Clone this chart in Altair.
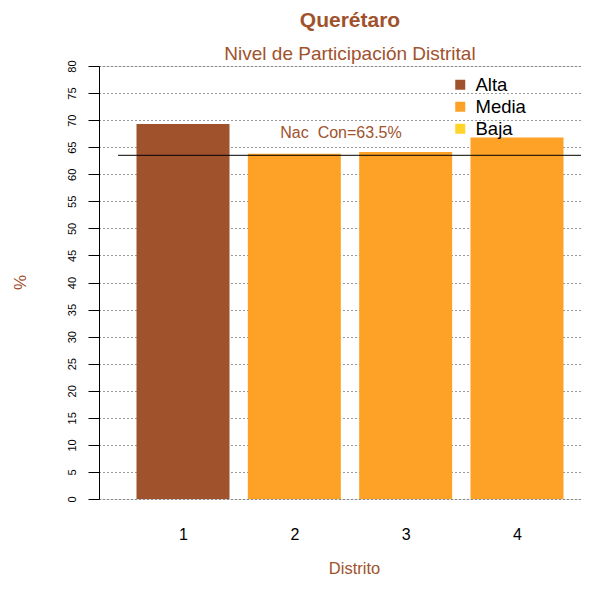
import altair as alt
import pandas as pd

# ---- data ----
distritos = [1, 2, 3, 4]
participacion = [69.3, 63.8, 64.1, 66.8]
nivel = ["Alta", "Media", "Media", "Media"]
nac_con = 63.5
nac_label = "Nac \u00a0Con=63.5%"
niveles = ["Alta", "Media", "Baja"]
colores = ["#A0522D", "#FEA127", "#FFD52B"]
y_ticks = list(range(0, 85, 5))
x_ticks = [1, 2, 3, 4]

SIENNA = "#A0522D"
FONT = "Liberation Sans"
HALF = 0.4177
X_DOMAIN = [0.2455, 4.5749]

df = pd.DataFrame({
    "distrito": distritos,
    "pct": participacion,
    "nivel": nivel,
})
df["x_lo"] = df["distrito"] - HALF
df["x_hi"] = df["distrito"] + HALF

ref = pd.DataFrame({"v": [nac_con], "t": [nac_label]})

x_scale = alt.Scale(domain=X_DOMAIN, nice=False, zero=False)
y_scale = alt.Scale(domain=[0, 80], nice=False)

Y_AXIS = alt.Axis(values=y_ticks, labelAngle=270, labelAlign="center",
                  labelBaseline="alphabetic", labelPadding=13,
                  labelOverlap=False,
                  labelFontSize=11, labelFont=FONT, labelColor="black",
                  tickSize=11, tickColor="black", tickWidth=1,
                  domainColor="black", domainWidth=1,
                  grid=True, gridColor="#333333", gridDash=[1, 3],
                  gridWidth=1,
                  title="%", titleFont=FONT, titleFontSize=17,
                  titleFontWeight="normal", titleColor=SIENNA,
                  titleAngle=270, titleX=-79, titleY=216,
                  titleBaseline="middle", titleAlign="center")

bars = alt.Chart(df).mark_bar().encode(
    x=alt.X("x_lo:Q", scale=x_scale,
            axis=alt.Axis(values=x_ticks, format="d", ticks=False, domain=False,
                          grid=False, labelFontSize=16, labelColor="black",
                          labelFont=FONT, labelBaseline="middle", labelPadding=35,
                          title="Distrito", titleFont=FONT, titleFontSize=16.5,
                          titleFontWeight="normal", titleColor=SIENNA,
                          titleX=255, titleY=69, titleBaseline="middle",
                          titleAlign="center")),
    x2="x_hi:Q",
    y=alt.Y("pct:Q", scale=y_scale, axis=Y_AXIS),
    y2=alt.Y2(datum=0),
    color=alt.Color("nivel:N", scale=alt.Scale(domain=niveles, range=colores),
                    legend=alt.Legend(title=None, orient="none", legendX=352,
                                      legendY=9.5, symbolType="square",
                                      symbolSize=100, symbolStrokeWidth=0,
                                      labelFontSize=18.5, labelFont=FONT,
                                      labelColor="black", rowPadding=3,
                                      labelOffset=6, padding=0)),
)

rule = alt.Chart(ref).mark_rule(color="black", strokeWidth=1).encode(
    x=alt.value(19), x2=alt.value(482),
    y=alt.Y("v:Q", scale=y_scale, axis=Y_AXIS),
)

label = alt.Chart(ref).mark_text(
    font=FONT, fontSize=16, color=SIENNA, align="center", baseline="alphabetic", dy=-17
).encode(
    x=alt.value(242),
    y=alt.Y("v:Q", scale=y_scale, axis=Y_AXIS),
    text="t:N",
)

chart = alt.layer(bars, rule, label).properties(
    width=482,
    height=433,
    padding={"left": 91, "top": 58, "right": 0, "bottom": 77},
    autosize=alt.AutoSizeParams(type="none"),
    title=alt.TitleParams(
        text="Querétaro", subtitle="Nivel de Participación Distrital",
        anchor="middle", frame="group", font=FONT, fontSize=21,
        fontWeight="bold", color=SIENNA, subtitleFont=FONT,
        subtitleFontSize=19, subtitleColor=SIENNA, subtitlePadding=14,
        offset=-4, dx=10,
    ),
).configure_view(stroke=None).configure(background="white")

chart.save("out.html", embed_options={"renderer": "svg", "actions": False})
